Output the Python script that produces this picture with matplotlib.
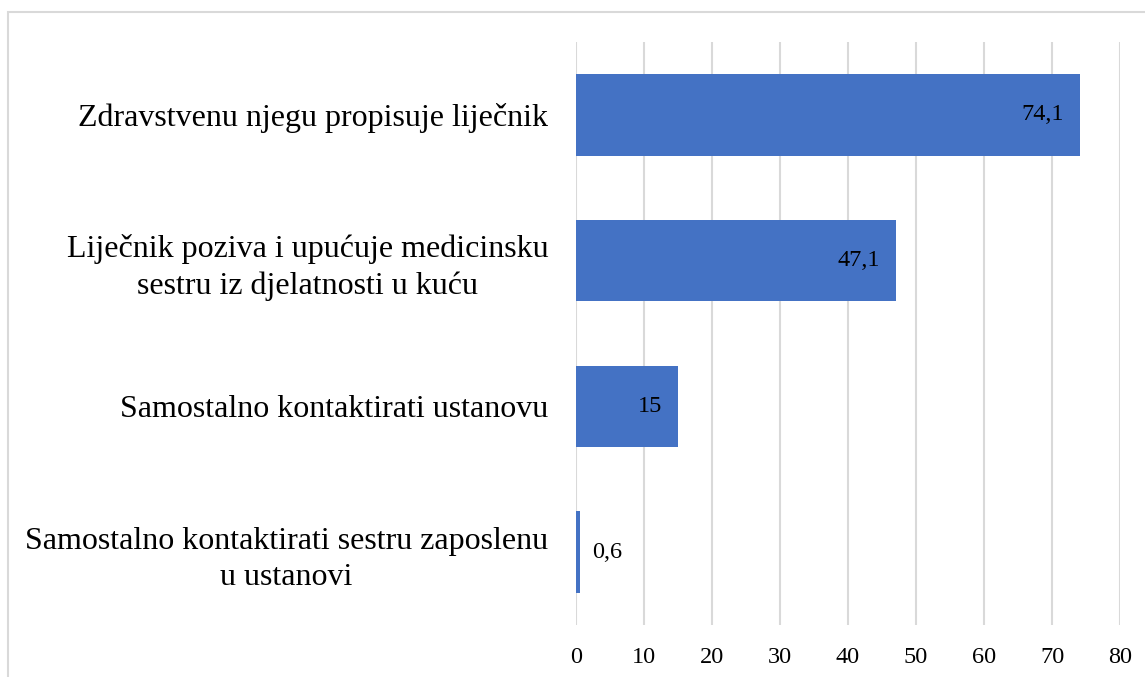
import numpy as np
import matplotlib.pyplot as plt
import matplotlib.patches as patches

plt.rcParams['font.family'] = ['Liberation Serif', 'DejaVu Serif']

categories = ['Zdravstvenu njegu propisuje liječnik',
              'Liječnik poziva i upućuje medicinsku\nsestru iz djelatnosti u kuću',
              'Samostalno kontaktirati ustanovu',
              'Samostalno kontaktirati sestru zaposlenu\nu ustanovi']
values = [74.1, 47.1, 15, 0.6]
value_labels = ['74,1', '47,1', '15', '0,6']
xticks = [0, 10, 20, 30, 40, 50, 60, 70, 80]

fig = plt.figure(figsize=(11.45, 6.77), dpi=100)
ax = fig.add_axes([576/1145, 1 - 625/677, (1120-576)/1145, (625-42)/677])

y = np.arange(len(categories))
bars = ax.barh(y, values, height=0.56, color='#4472C4', zorder=3)
ax.set_ylim(3.5, -0.5)
ax.set_xlim(0, 80)
ax.set_xticks(xticks)
ax.set_xticklabels([str(t) for t in xticks], fontsize=17.5)
ax.set_yticks(y)
ax.set_yticklabels(categories, fontsize=23, linespacing=1.32)
for lab in ax.get_yticklabels():
    lab.set_multialignment('center')
ax.tick_params(axis='both', length=0)
ax.tick_params(axis='y', pad=20)
ax.tick_params(axis='x', pad=16)
ax.grid(axis='x', color='#D9D9D9', linewidth=1.5, zorder=0)
for s in ax.spines.values():
    s.set_visible(False)

# oznake vrijednosti: unutar kraja stupca, osim za vrlo kratke stupce
for b, v, t in zip(bars, values, value_labels):
    yc = b.get_y() + b.get_height() / 2
    if v > 5:
        ax.annotate(t, (v, yc), xytext=(-16, 0), textcoords='offset pixels',
                    ha='right', va='center', fontsize=17.5, zorder=4)
    else:
        ax.annotate(t, (v, yc), xytext=(12, 0), textcoords='offset pixels',
                    ha='left', va='center', fontsize=17.5, zorder=4)

border = patches.Rectangle((8/1145, -0.1), 1.2, 1 - 12/677 + 0.1, transform=fig.transFigure,
                           fill=False, edgecolor='#D9D9D9', linewidth=1.5)
fig.patches.append(border)

fig.savefig('out.png', dpi=100)
